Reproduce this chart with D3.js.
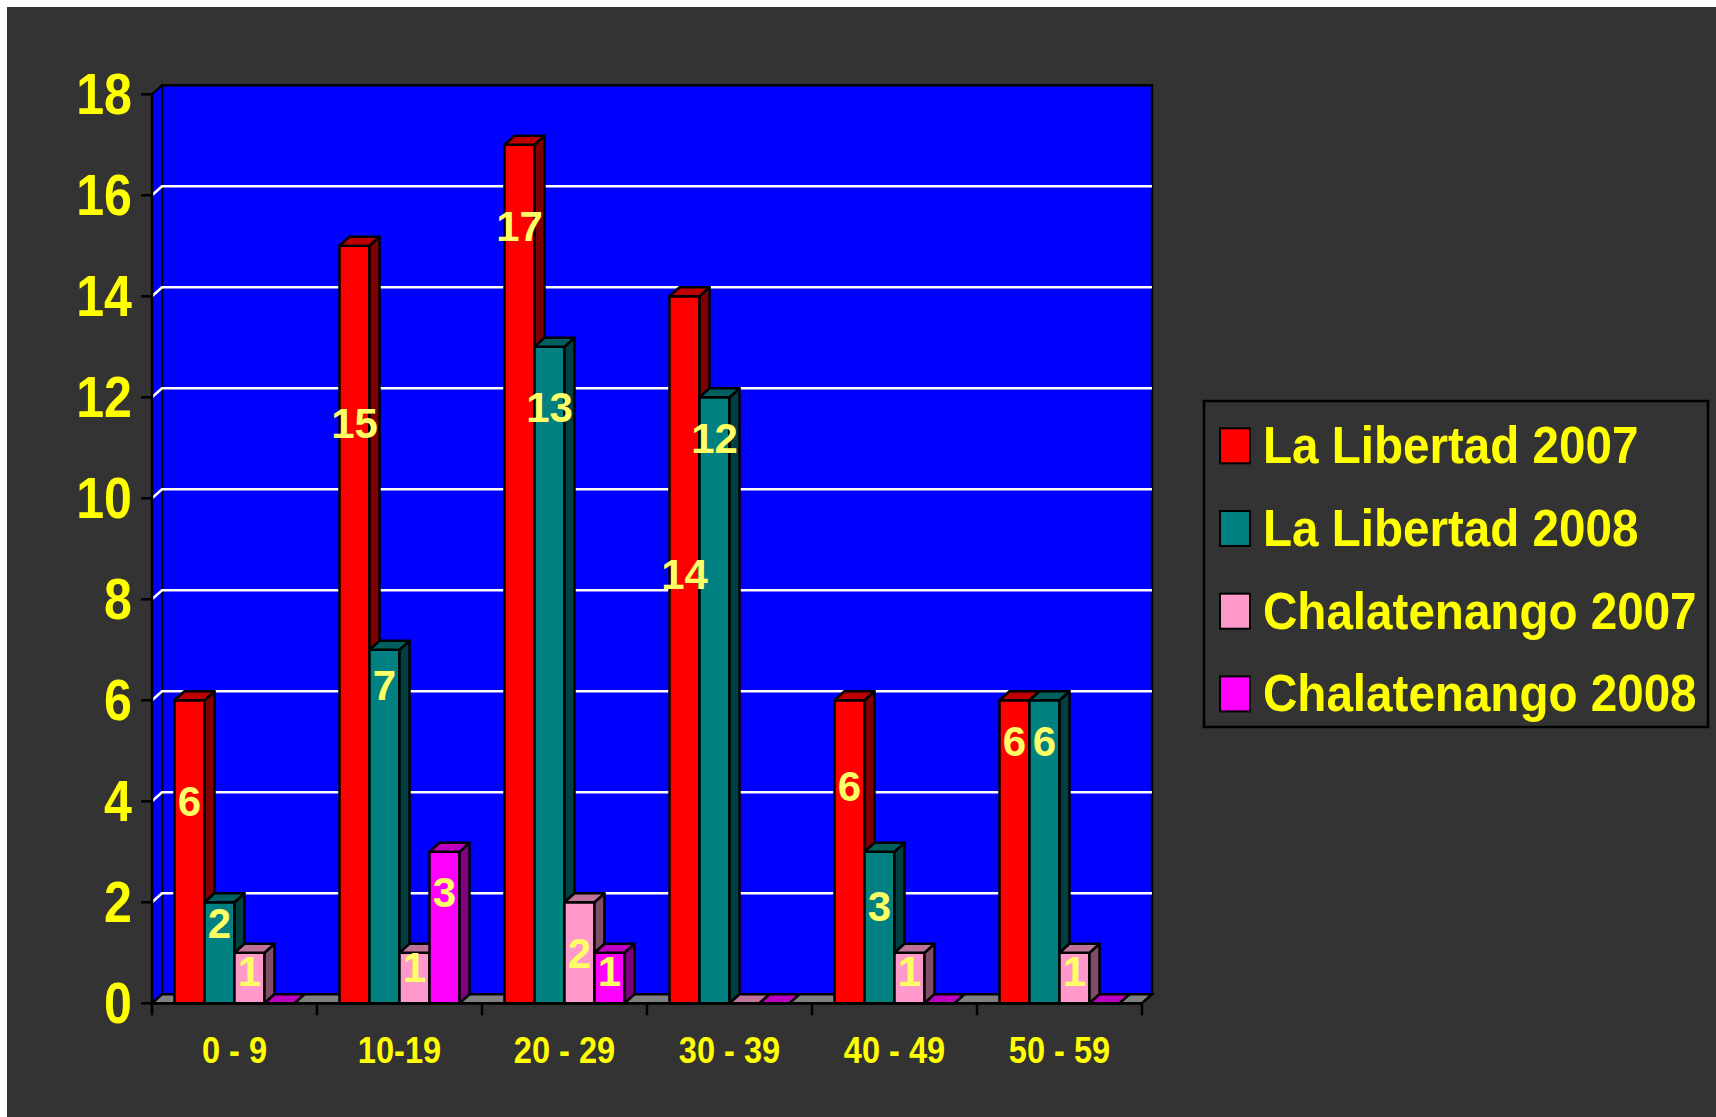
<!DOCTYPE html>
<html>
<head>
<meta charset="utf-8">
<script src="https://cdn.jsdelivr.net/npm/d3@7"></script>
<style>
  body { margin: 0; background: #ffffff; }
  svg { display: block; }
</style>
</head>
<body>
<main></main>
<script>
// Age groups on the x axis
const categories = ["0 - 9", "10-19", "20 - 29", "30 - 39", "40 - 49", "50 - 59"];

// Series names, as in the legend
const seriesNames = ["La Libertad 2007", "La Libertad 2008", "Chalatenango 2007", "Chalatenango 2008"];

// Values per series
const laLibertad2007 = [6, 15, 17, 14, 6, 6];
const laLibertad2008 = [2, 7, 13, 12, 3, 6];
const chalatenango2007 = [1, 1, 2, 0, 1, 1];
const chalatenango2008 = [0, 3, 1, 0, 0, 0];

// Value level (axis units) where each data label sits
const labelLevels = [
    [4.0, 11.5, 15.4, 8.5, 4.3, 5.2],
    [1.6, 6.3, 11.8, 11.2, 1.93, 5.2],
    [0.64, 0.71, 1.0, null, 0.64, 0.64],
    [null, 2.2, 0.64, null, null, null]
];

const yTicks = [0, 2, 4, 6, 8, 10, 12, 14, 16, 18];

const seriesValues = [laLibertad2007, laLibertad2008, chalatenango2007, chalatenango2008];

// front, top, side colours for each series
const faceColors = [
    { front: "#ff0000", top: "#bf0000", side: "#800000" },
    { front: "#008080", top: "#006060", side: "#004040" },
    { front: "#ff99cc", top: "#bf7399", side: "#804d66" },
    { front: "#ff00ff", top: "#bf00bf", side: "#800080" }
];

const width = 1716;
const height = 1117;
const depth = { dx: 10, dy: -9 };
const FONT = "'Liberation Sans', Arial, Helvetica, sans-serif";

const svg = d3.select("main")
    .append("svg")
    .attr("width", width)
    .attr("height", height);

// dark panel
svg.append("rect")
    .attr("x", 7)
    .attr("y", 7)
    .attr("width", width - 7)
    .attr("height", height - 7)
    .attr("fill", "#333333");

const x = d3.scaleBand()
    .domain(categories)
    .range([152, 1142]);

const xInner = d3.scaleBand()
    .domain(d3.range(seriesNames.length))
    .range([0, x.bandwidth()])
    .paddingOuter(0.75);

const y = d3.scaleLinear()
    .domain([0, 18])
    .range([1003.3, 94.3]);

const left = x.range()[0], right = x.range()[1];
const y0 = y(0), yTop = y(18);

const pts = arr => arr.map(p => p.join(",")).join(" ");

// back wall
svg.append("rect")
    .attr("x", left + depth.dx)
    .attr("y", yTop + depth.dy)
    .attr("width", right - left)
    .attr("height", y0 - yTop)
    .attr("fill", "#0000ff")
    .attr("stroke", "#000")
    .attr("stroke-width", 2.5);

// side wall
svg.append("polygon")
    .attr("points", pts([[left, yTop], [left + depth.dx, yTop + depth.dy],
        [left + depth.dx, y0 + depth.dy], [left, y0]]))
    .attr("fill", "#0000ff")
    .attr("stroke", "#000")
    .attr("stroke-width", 2);

// gridlines on the walls
const grid = svg.append("g");
yTicks.filter(t => t > 0 && t < 18).forEach(t => {
    grid.append("path")
        .attr("d", `M${left},${y(t)}L${left + depth.dx},${y(t) + depth.dy}L${right + depth.dx},${y(t) + depth.dy}`)
        .attr("fill", "none")
        .attr("stroke", "#ffffff")
        .attr("stroke-width", 2.5);
});

// floor
svg.append("polygon")
    .attr("points", pts([[left, y0], [right, y0], [right + depth.dx, y0 + depth.dy], [left + depth.dx, y0 + depth.dy]]))
    .attr("fill", "#808080")
    .attr("stroke", "#000")
    .attr("stroke-width", 2.5);

// bars
const bars = svg.append("g").attr("stroke", "#000").attr("stroke-width", 2.5).attr("stroke-linejoin", "round");
categories.forEach((cat, ci) => {
    seriesValues.forEach((vals, si) => {
        const v = vals[ci];
        const bx = x(cat) + xInner(si);
        const bw = xInner.bandwidth();
        const by = y(v);
        const c = faceColors[si];
        if (v > 0) {
            bars.append("rect")
                .attr("x", bx).attr("y", by)
                .attr("width", bw).attr("height", y0 - by)
                .attr("fill", c.front);
            bars.append("polygon")
                .attr("points", pts([[bx + bw, by], [bx + bw + depth.dx, by + depth.dy],
                    [bx + bw + depth.dx, y0 + depth.dy], [bx + bw, y0]]))
                .attr("fill", c.side);
        }
        bars.append("polygon")
            .attr("points", pts([[bx, by], [bx + depth.dx, by + depth.dy],
                [bx + bw + depth.dx, by + depth.dy], [bx + bw, by]]))
            .attr("fill", c.top);
    });
});

// axes lines and ticks
const axis = svg.append("g").attr("stroke", "#000").attr("stroke-width", 2.5);
axis.append("line").attr("x1", left).attr("x2", left).attr("y1", yTop).attr("y2", y0);
axis.append("line").attr("x1", left).attr("x2", right).attr("y1", y0).attr("y2", y0);
yTicks.forEach(t => {
    axis.append("line").attr("x1", left - 11).attr("x2", left).attr("y1", y(t)).attr("y2", y(t));
});
categories.map(c => x(c)).concat([right]).forEach(px => {
    axis.append("line").attr("x1", px).attr("x2", px).attr("y1", y0).attr("y2", y0 + 12);
});

// condensed text helper
function addText(g, tx, ty, str, size, anchor, sx, fill) {
    return g.append("text")
        .attr("transform", `translate(${tx},${ty}) scale(${sx},1)`)
        .attr("text-anchor", anchor)
        .attr("font-family", FONT)
        .attr("font-weight", "bold")
        .attr("font-size", size)
        .attr("fill", fill)
        .text(str);
}

const labels = svg.append("g");

// y tick labels
yTicks.forEach(t => addText(labels, 132, y(t) + 20, t, 57, "end", 0.88, "#ffff00"));

// category labels
categories.forEach(c => addText(labels, x(c) + x.bandwidth() / 2, 1063, c, 37, "middle", 0.88, "#ffff00"));

// data labels
categories.forEach((cat, ci) => {
    seriesValues.forEach((vals, si) => {
        const lv = labelLevels[si][ci];
        if (lv === null || vals[ci] === 0) return;
        addText(labels, x(cat) + xInner(si) + xInner.bandwidth() / 2, y(lv) + 15,
            vals[ci], 42, "middle", 1, "#ffff66");
    });
});

// legend
const legend = svg.append("g");
legend.append("rect")
    .attr("x", 1204).attr("y", 401)
    .attr("width", 504).attr("height", 326)
    .attr("fill", "#333333")
    .attr("stroke", "#000")
    .attr("stroke-width", 2.5);

seriesNames.forEach((name, i) => {
    const base = 463.3 + i * 82.7;
    legend.append("rect")
        .attr("x", 1220).attr("y", base - 35)
        .attr("width", 30).attr("height", 35)
        .attr("fill", faceColors[i].front)
        .attr("stroke", "#000")
        .attr("stroke-width", 2);
    addText(legend, 1263, base, name, 52, "start", 0.915, "#ffff00");
});
</script>
</body>
</html>
